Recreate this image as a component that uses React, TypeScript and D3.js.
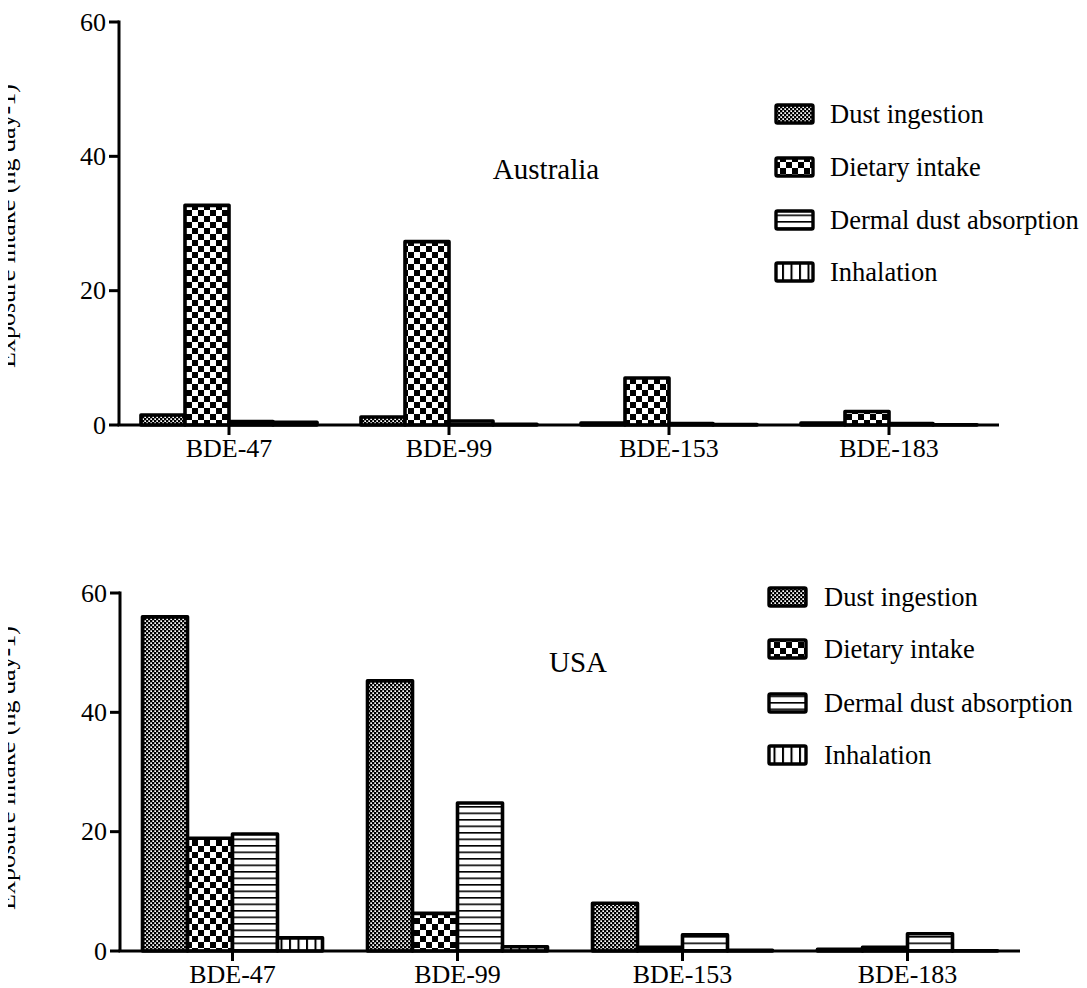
import React from "react";
import * as d3 from "d3";

const categories = ["BDE-47", "BDE-99", "BDE-153", "BDE-183"];
const seriesNames = ["Dust ingestion", "Dietary intake", "Dermal dust absorption", "Inhalation"];
const yTicks = [0, 20, 40, 60];

const australiaDust = [1.5, 1.2, 0.3, 0.3];
const australiaDiet = [32.7, 27.3, 7.0, 2.0];
const australiaDermal = [0.5, 0.6, 0.2, 0.2];
const australiaInhal = [0.4, 0.1, 0.05, 0.02];

const usaDust = [56.0, 45.3, 8.0, 0.3];
const usaDiet = [18.9, 6.3, 0.6, 0.6];
const usaDermal = [19.6, 24.8, 2.7, 2.9];
const usaInhal = [2.2, 0.7, 0.1, 0.05];

const patternIds = ["pDust", "pDiet", "pDermal", "pInhal"];
const FONT = "'Liberation Serif', 'Times New Roman', serif";

type Panel = {
  title: string;
  values: number[][];
  x0: number;
  x1: number;
  yBottom: number;
  yTop: number;
  titleX: number;
  titleY: number;
  legendX: number;
  textX: number;
  legendRows: number[];
  labelY: number;
};

const panels: Panel[] = [
  {
    title: "Australia",
    values: [australiaDust, australiaDiet, australiaDermal, australiaInhal],
    x0: 119,
    x1: 999,
    yBottom: 425,
    yTop: 22,
    titleX: 546,
    titleY: 179,
    legendX: 776,
    textX: 830,
    legendRows: [114, 167, 220, 272],
    labelY: 226,
  },
  {
    title: "USA",
    values: [usaDust, usaDiet, usaDermal, usaInhal],
    x0: 120,
    x1: 1020,
    yBottom: 951,
    yTop: 593,
    titleX: 578,
    titleY: 672,
    legendX: 769,
    textX: 824,
    legendRows: [597, 649, 703, 755],
    labelY: 768,
  },
];

function ChartPanel({ p }: { p: Panel }) {
  const x = d3.scaleBand<string>().domain(categories).range([p.x0, p.x1]).padding(0);
  const bw = x.bandwidth();
  const inner = d3
    .scaleBand<number>()
    .domain(d3.range(seriesNames.length))
    .range([bw * 0.1, bw * 0.9])
    .padding(0);
  const y = d3.scaleLinear().domain([0, 60]).range([p.yBottom, p.yTop]);

  return (
    <g>
      {categories.map((c, ci) =>
        seriesNames.map((s, si) => {
          const v = p.values[si][ci];
          const bx = (x(c) as number) + (inner(si) as number);
          const by = y(v);
          return (
            <rect
              key={c + s}
              x={bx}
              y={by}
              width={inner.bandwidth()}
              height={Math.max(0.01, y(0) - by)}
              fill={`url(#${patternIds[si]})`}
              stroke="#000"
              strokeWidth={3.6}
              strokeLinejoin="round"
            />
          );
        })
      )}
      <line x1={p.x0} x2={p.x0} y1={y(60) - 1.5} y2={y(0)} stroke="#000" strokeWidth={3} />
      {yTicks.map((t) => (
        <g key={t}>
          <line x1={p.x0 - 10} x2={p.x0} y1={y(t)} y2={y(t)} stroke="#000" strokeWidth={3} />
          <text
            x={p.x0 - 13}
            y={y(t)}
            textAnchor="end"
            dominantBaseline="central"
            fontFamily={FONT}
            fontSize={26}
          >
            {t}
          </text>
        </g>
      ))}
      <line x1={p.x0 - 1.5} x2={p.x1} y1={y(0)} y2={y(0)} stroke="#000" strokeWidth={3} />
      {categories.map((c) => {
        const cx = (x(c) as number) + bw / 2;
        return (
          <g key={c}>
            <line x1={cx} x2={cx} y1={y(0)} y2={y(0) + 10} stroke="#000" strokeWidth={3} />
            <text x={cx} y={y(0) + 32} textAnchor="middle" fontFamily={FONT} fontSize={26}>
              {c}
            </text>
          </g>
        );
      })}
      <text x={p.titleX} y={p.titleY} textAnchor="middle" fontFamily={FONT} fontSize={29}>
        {p.title}
      </text>
      {seriesNames.map((s, si) => (
        <g key={s}>
          <rect
            x={p.legendX}
            y={p.legendRows[si] - 9}
            width={37}
            height={18}
            rx={1.5}
            fill={`url(#${patternIds[si]})`}
            stroke="#000"
            strokeWidth={3.4}
          />
          <text
            x={p.textX}
            y={p.legendRows[si]}
            dominantBaseline="central"
            fontFamily={FONT}
            fontSize={26.5}
          >
            {s}
          </text>
        </g>
      ))}
      <text
        transform={`translate(15,${p.labelY}) rotate(-90)`}
        textAnchor="middle"
        fontFamily={FONT}
        fontSize={26}
      >
        Exposure intake (ng day-1)
      </text>
    </g>
  );
}

export default function App() {
  return (
    <svg width={1079} height={980} style={{ display: "block", background: "#fff" }}>
      <defs>
        <pattern id="pDust" patternUnits="userSpaceOnUse" width={4} height={4}>
          <rect width={4} height={4} fill="#000" />
          <rect x={0.3} y={0.3} width={1.7} height={1.7} fill="#fff" />
          <rect x={2.3} y={2.3} width={1.7} height={1.7} fill="#fff" />
        </pattern>
        <pattern id="pDiet" patternUnits="userSpaceOnUse" width={12} height={12}>
          <rect width={12} height={12} fill="#fff" />
          <rect x={0} y={0} width={6} height={6} fill="#000" />
          <rect x={6} y={6} width={6} height={6} fill="#000" />
        </pattern>
        <pattern id="pDermal" patternUnits="userSpaceOnUse" width={8} height={6.5}>
          <rect width={8} height={6.5} fill="#fff" />
          <rect x={0} y={0} width={8} height={1.6} fill="#000" />
        </pattern>
        <pattern id="pInhal" patternUnits="userSpaceOnUse" width={8.5} height={8}>
          <rect width={8.5} height={8} fill="#fff" />
          <rect x={0} y={0} width={2} height={8} fill="#000" />
        </pattern>
      </defs>
      <g transform="translate(-8,-8)">
        {panels.map((p) => (
          <ChartPanel key={p.title} p={p} />
        ))}
      </g>
    </svg>
  );
}
